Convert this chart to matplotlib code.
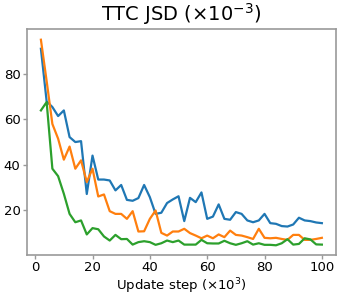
import numpy as np
import matplotlib
matplotlib.use("Agg")
import matplotlib.pyplot as plt

steps = list(range(2, 101, 2))
blue = [91.3, 68, 65.5, 61.5, 64, 52.2, 50, 50.4, 27, 44,
        33.4, 33.4, 33, 28.6, 31, 24.4, 24, 25.2, 31, 25.6,
        18.2, 18.7, 23, 24.6, 26, 15, 25.3, 23.4, 27.7, 16,
        17, 22.4, 16, 15.6, 19, 18.2, 15.3, 14.5, 15.3, 18.2,
        14.1, 13.8, 12.8, 12.6, 13.5, 16.5, 15.3, 15, 14.4, 14.1]
orange = [95.3, 77, 58, 51.5, 42.2, 48, 38.2, 41.9, 32.3, 38.2,
          25.9, 26.8, 19.4, 18.2, 18.2, 16, 19.4, 10.4, 10.5, 16,
          19.7, 9.8, 8.6, 10.4, 10.4, 11.6, 9.7, 8.6, 7.4, 8.6,
          7.4, 9.1, 7.9, 10.8, 8.9, 8.6, 7.9, 7.1, 11.6, 7.6,
          7.4, 7.6, 7.1, 6.7, 8.9, 8.9, 6.7, 6.7, 7.1, 7.6]
green = [64, 67.7, 38.2, 34.9, 27.1, 18.2, 14.5, 15.3, 9.1, 11.9,
         11.4, 8.2, 6.4, 8.9, 7, 7.1, 4.6, 5.7, 6.1, 5.7,
         4.5, 5.2, 6.4, 5.7, 6.4, 4.6, 4.6, 4.6, 6.7, 5.2,
         5.1, 5.1, 6.3, 5.2, 4.5, 5.2, 6.1, 4.6, 5.2, 4.5,
         4.5, 4.3, 5.2, 7, 4.6, 4.9, 7.4, 6.9, 4.7, 4.6]

title = "TTC JSD ($\\times10^{-3}$)"
xlabel = "Update step ($\\times10^{3}$)"
xticks = [0, 20, 40, 60, 80, 100]
yticks = [20, 40, 60, 80]

fig = plt.figure(figsize=(3.4, 3.0), dpi=100)
ax = fig.add_axes([0.079, 0.15, 0.909, 0.753])
ax.plot(steps, blue, color="#1f77b4", lw=1.6)
ax.plot(steps, orange, color="#ff7f0e", lw=1.6)
ax.plot(steps, green, color="#2ca02c", lw=1.6)
ax.set_xticks(xticks)
ax.set_yticks(yticks)
ax.set_ylim(0, 100)
ax.set_title(title, fontsize=14, pad=6)
ax.set_xlabel(xlabel, fontsize=9.5, labelpad=1.5)
for s in ax.spines.values():
    s.set_color("#999999")
    s.set_linewidth(1.2)
ax.tick_params(colors="#999999", labelcolor="black", labelsize=9.5, length=3, width=1, pad=1.5)
fig.savefig("out.png", dpi=100)
